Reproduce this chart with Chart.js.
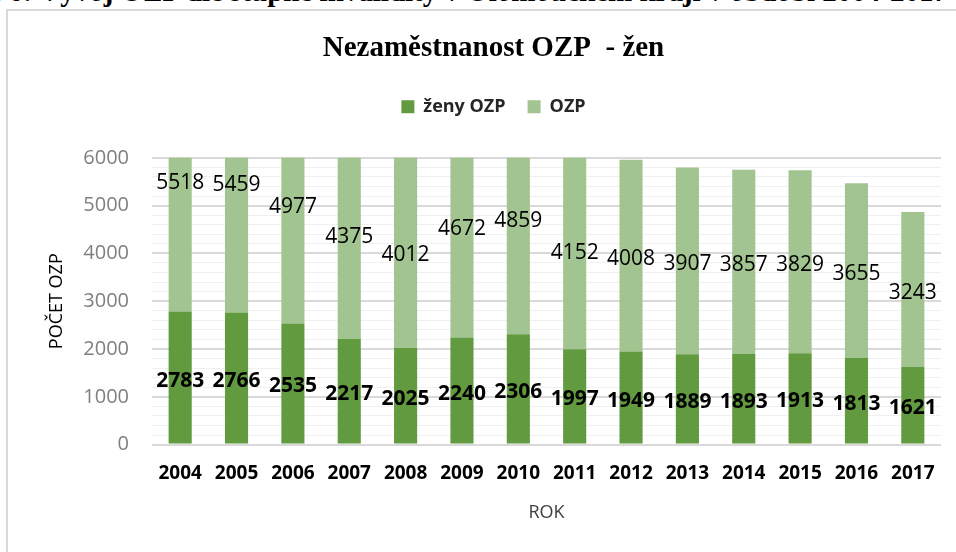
<!DOCTYPE html>
<html>
<head>
<meta charset="utf-8">
<script src="https://cdn.jsdelivr.net/npm/chart.js@4"></script>
<style>
  body { margin: 0; background: #fff; width: 956px; height: 552px; overflow: hidden; position: relative; }
  #caption {
    position: absolute; top: -23px; right: 8px; white-space: nowrap;
    font: bold 29px "Liberation Serif", serif; color: #000; line-height: 29px;
  }
  #frame {
    position: absolute; left: 6px; top: 9px; width: 950px; height: 543px;
    border-left: 2px solid #d9d9d9; border-top: 2px solid #d9d9d9;
  }
  #wrap { position: absolute; left: 2px; top: 2px; width: 948px; height: 541px; }
</style>
</head>
<body>
<div id="caption">Graf 6: Vývoj OZP dle stupně invalidity v Olomouckém kraji v období 2004-2017</div>
<div id="frame"><div id="wrap"><canvas id="chart"></canvas></div></div>
<script>
const years = ['2004', '2005', '2006', '2007', '2008', '2009', '2010', '2011', '2012', '2013', '2014', '2015', '2016', '2017'];
const zenyOzp = [2783, 2766, 2535, 2217, 2025, 2240, 2306, 1997, 1949, 1889, 1893, 1913, 1813, 1621];
const ozp = [5518, 5459, 4977, 4375, 4012, 4672, 4859, 4152, 4008, 3907, 3857, 3829, 3655, 3243];
const yMax = 6000;

// values written in the middle of each bar segment
const segmentLabels = {
    id: 'segmentLabels',
    afterDatasetsDraw(chart) {
        const ctx = chart.ctx;
        ctx.save();
        ctx.textAlign = 'center';
        ctx.textBaseline = 'middle';
        ctx.fillStyle = '#000';
        chart.data.datasets.forEach((ds, i) => {
            const meta = chart.getDatasetMeta(i);
            ctx.font = (i === 0 ? 'bold ' : '') + '21px "Open Sans"';
            meta.data.forEach((bar, j) => {
                const y = (bar.y + bar.base) / 2 + 3;
                ctx.fillText(String(ds.data[j]), bar.x, y);
            });
        });
        ctx.restore();
    }
};

// more room between legend and plot
const legendGap = {
    id: 'legendGap',
    beforeInit(chart) {
        const fit = chart.legend.fit;
        chart.legend.fit = function() {
            fit.call(this);
            this.height += 32;
        };
    }
};

new Chart(document.getElementById('chart'), {
    type: 'bar',
    data: {
        labels: years,
        datasets: [
            { label: 'ženy OZP', data: zenyOzp, backgroundColor: '#619a3f', barPercentage: 0.82, categoryPercentage: 0.5 },
            { label: 'OZP', data: ozp, backgroundColor: '#a2c490', barPercentage: 0.82, categoryPercentage: 0.5 }
        ]
    },
    options: {
        responsive: true,
        maintainAspectRatio: false,
        animation: false,
        layout: { padding: { left: 36, right: 17, top: 0, bottom: 26 } },
        plugins: {
            title: {
                display: true,
                text: 'Nezaměstnanost OZP  - žen',
                color: '#000',
                font: { family: '"Liberation Serif"', size: 29, weight: 'bold' },
                padding: { top: 18, bottom: 10 }
            },
            legend: {
                position: 'top',
                labels: {
                    boxWidth: 13, boxHeight: 13, padding: 22,
                    color: '#262626',
                    font: { family: '"Open Sans"', size: 18, weight: 'bold' }
                }
            },
            tooltip: { enabled: false }
        },
        scales: {
            x: {
                stacked: true,
                grid: { display: false },
                border: { display: false },
                ticks: { color: '#000', padding: 10, font: { family: '"Open Sans"', size: 19, weight: 'bold' } },
                title: { display: true, text: 'ROK', color: '#404040', padding: { top: 7 }, font: { family: '"Open Sans"', size: 18 } }
            },
            y: {
                stacked: true,
                min: 0,
                max: yMax,
                afterFit: scale => { scale.width = 106; },
                border: { display: false },
                grid: {
                    drawTicks: false,
                    color: c => c.tick.value % 1000 === 0 ? '#d9d9d9' : '#f0f0f0',
                    lineWidth: c => c.tick.value % 1000 === 0 ? 2 : 1
                },
                ticks: {
                    stepSize: 200,
                    autoSkip: false,
                    padding: 23,
                    color: '#7f7f7f',
                    font: { family: '"Open Sans"', size: 20 },
                    callback: v => v % 1000 === 0 ? String(v) : ''
                },
                title: { display: true, text: 'POČET OZP', color: '#000', padding: { top: 0, bottom: 0 }, font: { family: '"Open Sans"', size: 18 } }
            }
        }
    },
    plugins: [segmentLabels, legendGap]
});
</script>
</body>
</html>
